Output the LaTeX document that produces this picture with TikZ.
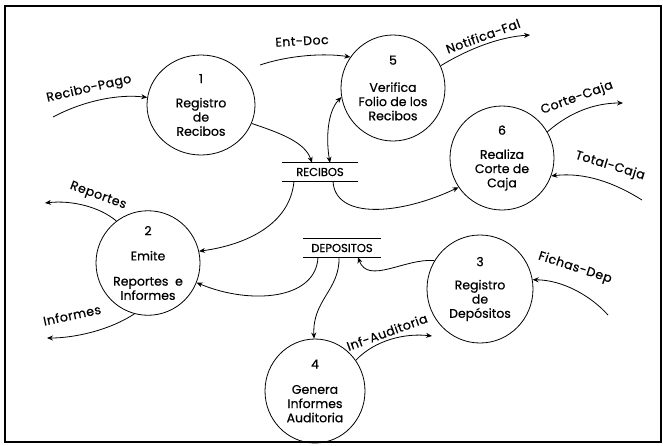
\documentclass[tikz,border=0pt]{standalone}
\usepackage{fontspec}
\setmainfont{Poppins}[FakeBold=0.6]
\usetikzlibrary{arrows.meta,shapes.geometric}
\begin{document}
\begin{tikzpicture}[x=1pt,y=-1pt,
  every node/.style={font=\fontsize{12.5}{14.2}\selectfont},
  proc/.style={draw,line width=0.8pt,ellipse,inner sep=0pt,align=center},
  store/.style={minimum width=76pt,minimum height=18pt,inner sep=0pt,font=\fontsize{11.5}{12}\selectfont},
  flow/.style={line width=0.8pt,-{Stealth[length=6pt,width=5pt]}},
  both/.style={line width=0.8pt,{Stealth[length=6pt,width=5pt]}-{Stealth[length=6pt,width=5pt]}},
  lbl/.style={inner sep=0pt,font=\fontsize{12.5}{13}\selectfont\addfontfeature{LetterSpace=4}}]
\useasboundingbox (0,0) rectangle (663,445);
% outer frame
\draw[line width=1.4pt] (5,6) rectangle (661,442);

% processes
\node[proc,minimum width=108pt,minimum height=100pt] (p1) at (201,105)
  {1\\[10pt]Registro\\de\\Recibos};
\node[proc,minimum width=104pt,minimum height=104pt] (p2) at (148,263)
  {2\\[11pt]Emite\\[11pt]Reportes\ \ e\\Informes};
\node[proc,minimum width=106pt,minimum height=108pt] (p3) at (480,289)
  {3\\[9pt]Registro\\de\\Depósitos};
\node[proc,minimum width=100pt,minimum height=104pt] (p4) at (315,391)
  {4\\[11pt]Genera\\Informes\\Auditoria};
\node[proc,minimum width=104pt,minimum height=106pt] (p5) at (393,88)
  {5\\[13pt]Verifica\\Folio de los\\Recibos};
\node[proc,minimum width=104pt,minimum height=104pt] (p6) at (502,158)
  {6\\[10pt]Realiza\\Corte de\\Caja};

% data stores
\node[store] (rec) at (320,172) {RECIBOS};
\draw[line width=0.8pt] (rec.north west) -- (rec.north east)
                        (rec.south west) -- (rec.south east);
\node[store,minimum width=78pt] (dep) at (342,248) {DEPOSITOS};
\draw[line width=0.8pt] (dep.north west) -- (dep.north east)
                        (dep.south west) -- (dep.south east);

% free ends of external flows
\coordinate (inPago) at (53,117);
\coordinate (inDoc) at (260,65);
\coordinate (outFal) at (530,35);
\coordinate (outCorte) at (623,103);
\coordinate (inTotal) at (642,200);
\coordinate (outRep) at (45,203);
\coordinate (outInf) at (47,338);
\coordinate (inFichas) at (608,315);

% flows
\draw[flow] (inPago) .. controls (85,100) and (120,94) .. (p1.172);
\draw[flow] (inDoc) .. controls (290,55) and (325,53) .. (p5.144);
\draw[flow] (p5.25) .. controls (470,48) and (500,37) .. (outFal);
\draw[flow] (p6.30) .. controls (570,112) and (595,103) .. (outCorte);
\draw[flow] (inTotal) .. controls (615,183) and (585,172) .. (p6.-20);
\draw[flow] (p1.-20) .. controls (280,133) and (305,142) .. ([xshift=-8pt]rec.north);
\draw[both] ([xshift=10pt]rec.north) .. controls (326,140) and (327,112) .. (p5.190);
\draw[flow] ([xshift=13pt]rec.south) .. controls (335,220) and (400,215) .. (p6.214);
\draw[flow] ([xshift=-26pt]rec.south) .. controls (290,225) and (245,245) .. (p2.13);
\draw[flow] (p2.127) .. controls (100,207) and (72,200) .. (outRep);
\draw[flow] (p2.255) .. controls (110,330) and (75,338) .. (outInf);
\draw[flow] ([xshift=-24pt]dep.south) .. controls (316,300) and (250,305) .. (p2.-22);
\draw[flow] ([xshift=-3pt]dep.south) .. controls (340,290) and (312,300) .. (p4.91);
\draw[flow] (p3.148) .. controls (405,258) and (368,285) .. ([xshift=16pt]dep.south);
\draw[flow] (p4.37) .. controls (375,340) and (405,333) .. (432,336) coordinate (outAud);
\draw[flow] (inFichas) .. controls (590,295) and (562,280) .. (p3.10);

% flow labels
\node[lbl,rotate=13] (lPago) at (89,89) {Recibo-Pago};
\node[lbl,rotate=3] (lDoc) at (302,41) {Ent-Doc};
\node[lbl,rotate=20] (lFal) at (483,36) {Notifica-Fal};
\node[lbl,rotate=20] (lCorte) at (577,98) {Corte-Caja};
\node[lbl,rotate=-17] (lTotal) at (610,166) {Total-Caja};
\node[lbl,rotate=-20] (lRep) at (98,196) {Reportes};
\node[lbl,rotate=12] (lInf) at (72,315) {Informes};
\node[lbl,rotate=20] (lAud) at (387,332) {Inf-Auditoria};
\node[lbl,rotate=-18] (lFichas) at (575,268) {Fichas-Dep};
\end{tikzpicture}
\end{document}
